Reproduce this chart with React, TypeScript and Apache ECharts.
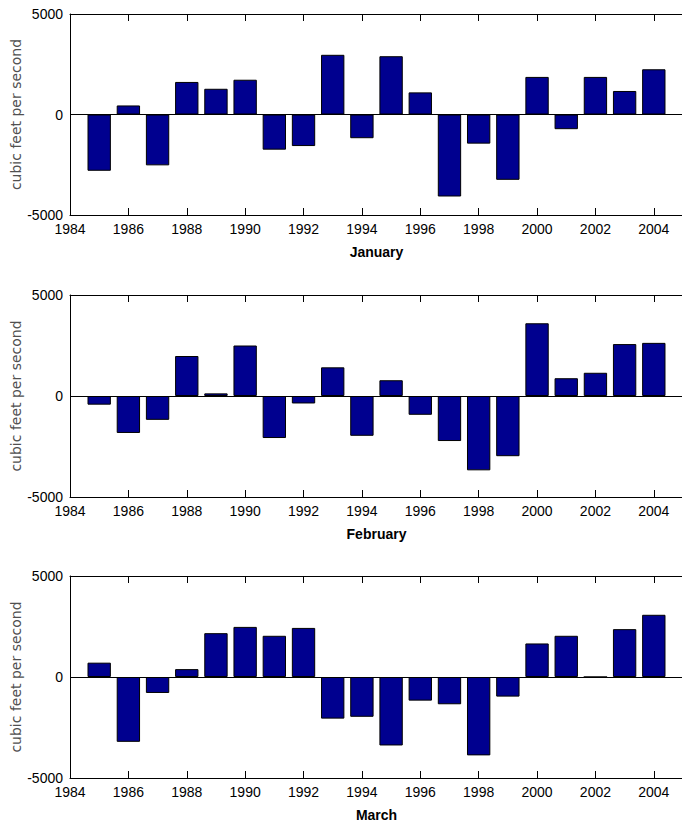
import React, { useEffect, useRef } from "react";
import * as echarts from "echarts";

const years = [1985, 1986, 1987, 1988, 1989, 1990, 1991, 1992, 1993, 1994, 1995, 1996, 1997, 1998, 1999, 2000, 2001, 2002, 2003, 2004];
const janValues = [-2800, 450, -2530, 1620, 1280, 1730, -1750, -1570, 2970, -1180, 2900, 1100, -4080, -1450, -3250, 1870, -730, 1870, 1170, 2250];
const febValues = [-430, -1830, -1180, 1980, 130, 2500, -2080, -370, 1420, -1970, 780, -930, -2230, -3680, -2980, 3600, 880, 1150, 2570, 2630];
const marValues = [710, -3210, -790, 390, 2170, 2480, 2040, 2430, -2060, -1970, -3390, -1170, -1350, -3880, -970, 1660, 2040, 0, 2370, 3080];
const monthNames = ["January", "February", "March"];
const yTickLabels = [-5000, 0, 5000];
const xMin = 1984;
const xMax = 2005;

const SANS = '"Liberation Sans", Arial, sans-serif';

export default function App() {
  const ref = useRef<HTMLDivElement>(null);
  useEffect(() => {
    if (!ref.current) return;
    const chart = echarts.init(ref.current, null, { renderer: "svg" });
    const seriesValues = [janValues, febValues, marValues];
    const tops = [14, 295, 576];
    const gridLeft = 70;
    const gridWidth = 613;
    const heights = [201, 202, 202];
    const barW = (gridWidth / (xMax - xMin)) * 0.8;

    const grid: any[] = [];
    const xAxis: any[] = [];
    const yAxis: any[] = [];
    const series: any[] = [];

    seriesValues.forEach((vals, i) => {
      grid.push({
        left: gridLeft,
        top: tops[i],
        width: gridWidth,
        height: heights[i],
        containLabel: false,
        outerBoundsMode: "none",
      });
      xAxis.push({
        type: "value",
        gridIndex: i,
        position: "bottom",
        min: xMin,
        max: xMax,
        interval: 2,
        name: monthNames[i],
        nameLocation: "middle",
        nameGap: 30,
        nameTextStyle: { fontFamily: SANS, fontSize: 14, fontWeight: "bold", color: "#000" },
        axisLine: { show: true, onZero: false, lineStyle: { color: "#000", width: 1 } },
        axisTick: { show: true, inside: true, length: 7, lineStyle: { color: "#000" } },
        axisLabel: {
          show: true,
          showMaxLabel: false,
          margin: 7,
          fontFamily: SANS,
          fontSize: 14,
          color: "#000",
          formatter: (v: number) => (v % 2 === 0 ? String(v) : ""),
        },
        splitLine: { show: false },
      });
      xAxis.push({
        type: "value",
        gridIndex: i,
        position: "top",
        min: xMin,
        max: xMax,
        interval: 2,
        axisLine: { show: true, onZero: false, lineStyle: { color: "#000", width: 1 } },
        axisTick: { show: true, inside: true, length: 7, lineStyle: { color: "#000" } },
        axisLabel: { show: false },
        splitLine: { show: false },
      });
      yAxis.push({
        type: "value",
        gridIndex: i,
        min: yTickLabels[0],
        max: yTickLabels[yTickLabels.length - 1],
        interval: 5000,
        name: "cubic feet per second",
        nameLocation: "middle",
        nameGap: 47,
        nameMoveOverlap: false,
        nameTextStyle: { fontFamily: "DejaVu Sans", fontSize: 14, color: "#505050" },
        axisLine: { show: true, onZero: false, lineStyle: { color: "#000", width: 1 } },
        axisTick: { show: true, inside: true, length: 7, lineStyle: { color: "#000" } },
        axisLabel: { margin: 7, fontFamily: SANS, fontSize: 14, color: "#000", formatter: (v: number) => String(v) },
        splitLine: { show: false },
      });
      series.push({
        type: "bar",
        xAxisIndex: i * 2,
        yAxisIndex: i,
        barWidth: barW,
        data: years.map((y, k) => [y, vals[k]]),
        itemStyle: { color: "#00008F", borderColor: "#000", borderWidth: 1 },
        markLine: {
          silent: true,
          symbol: "none",
          label: { show: false },
          lineStyle: { color: "#000", width: 1, type: "solid" },
          data: [{ yAxis: 0 }],
        },
      });
    });

    chart.setOption({
      animation: false,
      backgroundColor: "#fff",
      grid,
      xAxis,
      yAxis,
      series,
    });
    return () => chart.dispose();
  }, []);
  return <div ref={ref} style={{ position: "fixed", left: 0, top: 0, width: 682, height: 828 }} />;
}
